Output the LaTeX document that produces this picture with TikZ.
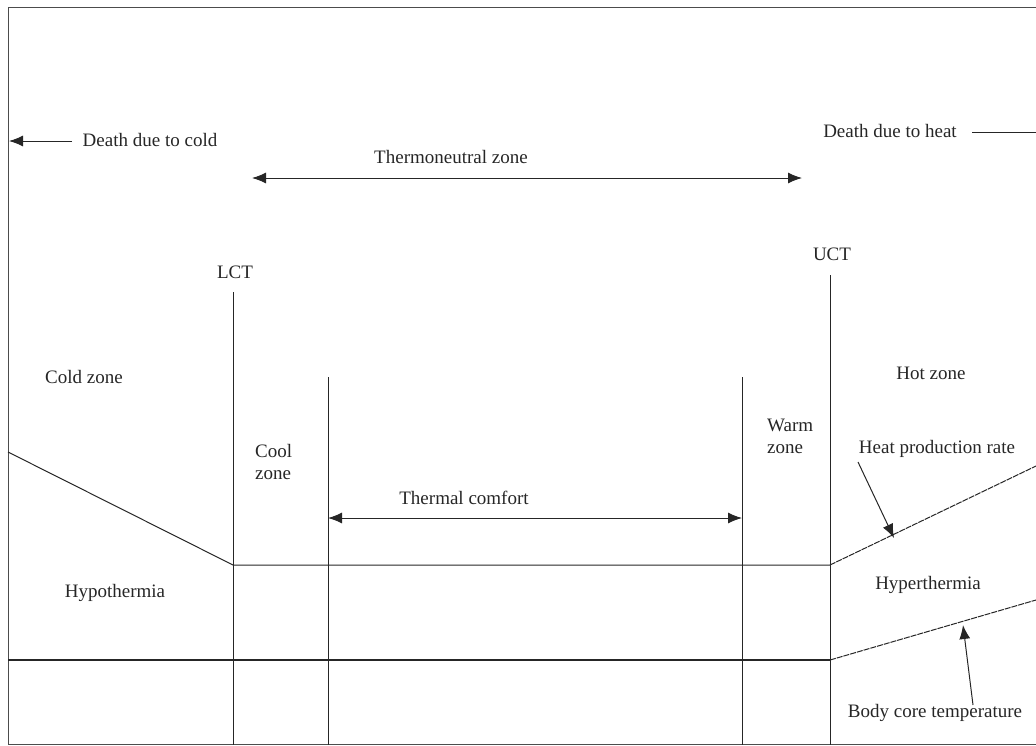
\documentclass[tikz,border=0pt]{standalone}
\usepackage{fontspec}
\setmainfont{Liberation Serif}
\usetikzlibrary{arrows.meta}
\begin{document}
\begin{tikzpicture}[x=1pt,y=-1pt,
  lbl/.style={font=\fontsize{19}{22}\selectfont,text=black!85,inner sep=0pt,anchor=center},
  ln/.style={draw=black!85,line width=1pt},
  arr/.style={ln,-{Latex[length=14pt,width=11pt]}},
  darr/.style={ln,{Latex[length=14pt,width=11pt]}-{Latex[length=14pt,width=11pt]}}]
\useasboundingbox (0,0) rectangle (1036,745);
% frame
\draw[ln,draw=black!70] (1036,7) -- (8,7) -- (8,744) -- (1036,744);
% labels
\node[lbl] (cold) at (150,140) {Death due to cold};
\node[lbl] (heat) at (890,131) {Death due to heat};
\node[lbl] (tnz) at (451,157) {Thermoneutral zone};
\node[lbl] (lct) at (235,272) {LCT};
\node[lbl] (uct) at (832,254) {UCT};
\node[lbl] (coldz) at (84,377) {Cold zone};
\node[lbl] (hotz) at (931,373) {Hot zone};
\node[lbl,align=left,anchor=west] (coolz) at (255,462) {Cool\\zone};
\node[lbl,align=left,anchor=west] (warmz) at (767,436) {Warm\\zone};
\node[lbl] (hpr) at (937,449) {Heat production rate};
\node[lbl] (tc) at (464,498) {Thermal comfort};
\node[lbl] (hypo) at (115,593) {Hypothermia};
\node[lbl] (hyper) at (928,585) {Hyperthermia};
\node[lbl] (bct) at (935,713) {Body core temperature};
% coordinates
\coordinate (c1) at (72,141); \coordinate (c0) at (9,141);
\coordinate (h1) at (972,132); \coordinate (h0) at (1036,132);
\coordinate (t0) at (252,178); \coordinate (t1) at (802,178);
\coordinate (lctT) at (233,292); \coordinate (lctB) at (233,745);
\coordinate (uctT) at (830,275); \coordinate (uctB) at (830,745);
\coordinate (aT) at (328,377); \coordinate (aB) at (328,745);
\coordinate (bT) at (742,377); \coordinate (bB) at (742,745);
\coordinate (k0) at (328,518); \coordinate (k1) at (742,518);
\coordinate (hpL) at (8,452); \coordinate (hpA) at (233,565); \coordinate (hpB) at (830,565); \coordinate (hpR) at (1036,466);
\coordinate (bcL) at (8,660); \coordinate (bcB) at (830,660); \coordinate (bcR) at (1036,600);
\coordinate (hpS) at (858,462); \coordinate (hpE) at (894,538);
\coordinate (bcS) at (973,705); \coordinate (bcE) at (963,625);
% arrows
\draw[arr] (c1) -- (c0);
\draw[ln] (h1) -- (h0);
\draw[darr] (t0) -- (t1);
\draw[darr] (k0) -- (k1);
% vertical lines
\draw[ln] (lctT) -- (lctB);
\draw[ln] (uctT) -- (uctB);
\draw[ln] (aT) -- (aB);
\draw[ln] (bT) -- (bB);
% curves
\draw[ln] (hpL) -- (hpA) -- (hpB);
\draw[ln,dash pattern=on 6pt off 1pt] (hpB) -- (hpR);
\draw[ln,line width=1.4pt] (bcL) -- (bcB);
\draw[ln,dash pattern=on 6pt off 1pt] (bcB) -- (bcR);
\draw[arr] (hpS) -- (hpE);
\draw[arr] (bcS) -- (bcE);
\end{tikzpicture}
\end{document}
